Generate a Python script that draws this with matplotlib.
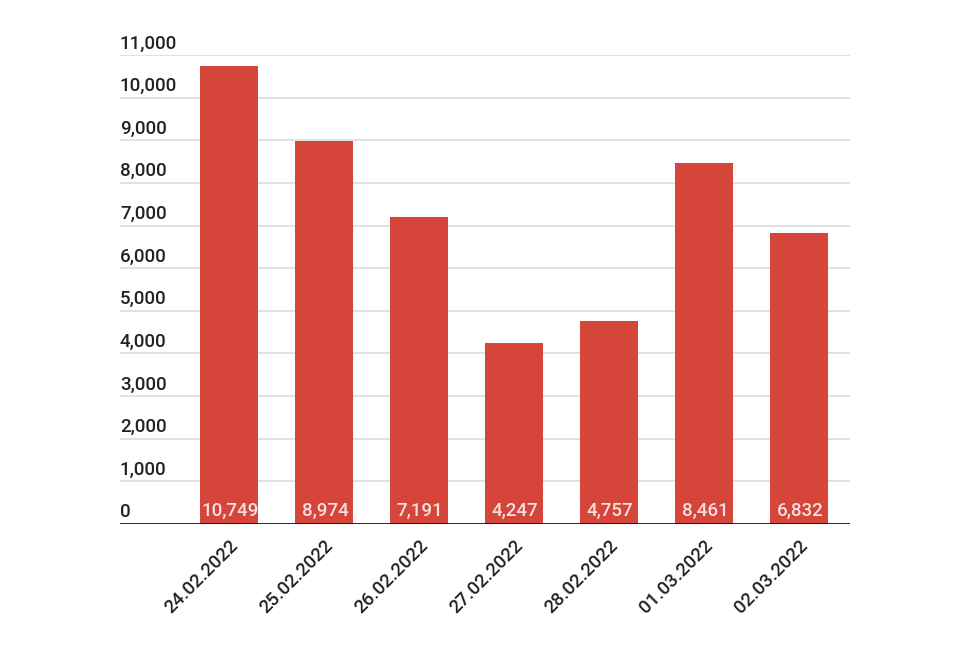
import matplotlib.pyplot as plt

plt.rcParams['font.family'] = ['Roboto', 'DejaVu Sans']

# data
dates = ["24.02.2022", "25.02.2022", "26.02.2022", "27.02.2022",
         "28.02.2022", "01.03.2022", "02.03.2022"]
values = [10749, 8974, 7191, 4247, 4757, 8461, 6832]
y_ticks = list(range(0, 12000, 1000))

bar_color = "#d6453a"

fig = plt.figure(figsize=(9.7, 6.45), dpi=100)
ax = fig.add_axes([0.1237, 0.1876, 0.7526, 0.7271])

x = list(range(len(dates)))
ax.bar(x, values, width=0.61, color=bar_color, zorder=3)

ax.set_xlim(-1.147, 6.537)
ax.set_ylim(0, 11000)

# gridlines + labels sitting above each line at the left edge
for t in y_ticks:
    if t > 0:
        ax.axhline(t, color="#dcdcdc", lw=1.2, zorder=1)
    ax.text(0.0, t + 60, f"{t:,}", transform=ax.get_yaxis_transform(),
            ha="left", va="bottom", fontsize=13.5, color="#222222",
            fontweight="medium")
ax.axhline(0, color="#111111", lw=2, zorder=4)

# value labels inside bars at the bottom
for xi, v in zip(x, values):
    ax.text(xi + 0.01, 100, f"{v:,}", ha="center", va="bottom", fontsize=13.5,
            color="#f7e0dd", fontweight="medium", zorder=5)

ax.set_yticks([])
ax.set_xticks(x)
ax.set_xticklabels(dates, rotation=45, ha="right", rotation_mode="anchor",
                   fontsize=13.5, color="#222222", fontweight="medium")
ax.tick_params(axis="x", length=0, pad=9)
for s in ax.spines.values():
    s.set_visible(False)

fig.savefig("out.png", dpi=100, facecolor="white")
